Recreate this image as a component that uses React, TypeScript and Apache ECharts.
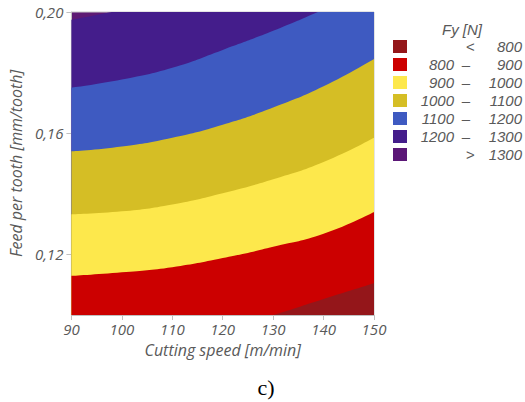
import React, { useEffect, useRef } from "react";
import * as echarts from "echarts";

const speeds = [90, 100, 110, 120, 130, 140, 150];
// Feed values [mm/tooth] where Fy equals each contour level
const b1300 = [0.1974, 0.2007, 0.2045, 0.209, 0.214, 0.22, 0.226];
const b1200 = [0.175, 0.1777, 0.1816, 0.1875, 0.1938, 0.2008, 0.208];
const b1100 = [0.154, 0.1556, 0.1585, 0.1628, 0.1685, 0.1755, 0.1845];
const b1000 = [0.1332, 0.1342, 0.1365, 0.1402, 0.1448, 0.1505, 0.1585];
const b900 = [0.1129, 0.1141, 0.1158, 0.1188, 0.1225, 0.1268, 0.134];
const b800 = [0.088, 0.0895, 0.092, 0.0955, 0.1, 0.1053, 0.1105];

const xTicks = [90, 100, 110, 120, 130, 140, 150];
const yTicks = [0.12, 0.16, 0.2];

const legendTitle = "Fy [N]";
const legendLow: (number | null)[] = [null, 800, 900, 1000, 1100, 1200, null];
const legendSep = ["<", "–", "–", "–", "–", "–", ">"];
const legendHigh = [800, 900, 1000, 1100, 1200, 1300, 1300];
const legendColors = ["#94161a", "#cc0000", "#fde84c", "#d5be25", "#3e5ac1", "#441d8b", "#5b1777"];

// colour filled below each boundary (drawn from top boundary down)
const boundaries = [b1300, b1200, b1100, b1000, b900, b800];
const fillColors = ["#441d8b", "#3e5ac1", "#d5be25", "#fde84c", "#cc0000", "#94161a"];
const topColor = "#5e1a74";

const TXT = "#595959";
const FONT = "Open Sans";

export default function App() {
  const ref = useRef<HTMLDivElement>(null);
  useEffect(() => {
    const chart = echarts.init(ref.current!, null, { renderer: "svg" });
    const series = boundaries.map((b, i) => ({
      type: "line",
      data: speeds.map((v, j) => [v, b[j]]),
      showSymbol: false,
      smooth: 0.5,
      clip: true,
      lineStyle: { width: 0 },
      areaStyle: { color: fillColors[i], opacity: 1, origin: "start" },
      silent: true,
    }));
    const legendFont = `italic 15px "Liberation Sans"`;
    const graphic: any[] = [
      {
        type: "text",
        x: 462,
        y: 29,
        style: { text: legendTitle, fill: TXT, font: legendFont, align: "center", verticalAlign: "middle" },
      },
    ];
    legendColors.forEach((c, i) => {
      const y = 40 + i * 18;
      graphic.push({ type: "rect", shape: { x: 393, y, width: 14, height: 13 }, style: { fill: c } });
      const cy = y + 6.5;
      if (legendLow[i] !== null) {
        graphic.push({
          type: "text",
          x: 454,
          y: cy,
          style: { text: String(legendLow[i]), fill: TXT, font: legendFont, align: "right", verticalAlign: "middle" },
        });
      }
      graphic.push({
        type: "text",
        x: legendSep[i] === "–" ? 466 : 470,
        y: cy,
        style: { text: legendSep[i], fill: TXT, font: legendFont, align: "center", verticalAlign: "middle" },
      });
      graphic.push({
        type: "text",
        x: 522,
        y: cy,
        style: { text: String(legendHigh[i]), fill: TXT, font: legendFont, align: "right", verticalAlign: "middle" },
      });
    });
    graphic.push({
      type: "text",
      x: 266,
      y: 387,
      style: { text: "c)", fill: "#000", font: `22px "Liberation Serif"`, align: "center", verticalAlign: "middle" },
    });

    const axisLabelStyle = { color: TXT, fontFamily: FONT, fontStyle: "italic", fontSize: 15 };
    chart.setOption({
      animation: false,
      grid: {
        left: 71,
        right: 151,
        top: 12,
        bottom: 87,
        show: true,
        backgroundColor: topColor,
        borderColor: "#c8c8c8",
        borderWidth: 1,
      },
      xAxis: {
        type: "value",
        min: 90,
        max: 150,
        interval: 10,
        name: "Cutting speed [m/min]",
        nameLocation: "middle",
        nameGap: 27,
        nameTextStyle: { color: TXT, fontFamily: FONT, fontStyle: "italic", fontSize: 16 },
        axisLine: { show: true, lineStyle: { color: "#c0c0c0" } },
        axisTick: { show: true, length: 5, lineStyle: { color: "#c0c0c0" }, customValues: xTicks },
        axisLabel: { ...axisLabelStyle, margin: 6, customValues: xTicks },
        splitLine: { show: false },
      },
      yAxis: {
        type: "value",
        min: 0.1,
        max: 0.2,
        name: "Feed per tooth [mm/tooth]",
        nameLocation: "middle",
        nameGap: 40,
        nameRotate: 90,
        nameTextStyle: { color: TXT, fontFamily: FONT, fontStyle: "italic", fontSize: 16 },
        axisLine: { show: true, lineStyle: { color: "#c0c0c0" } },
        axisTick: { show: true, length: 5, lineStyle: { color: "#c0c0c0" }, customValues: yTicks },
        axisLabel: {
          ...axisLabelStyle,
          margin: 8,
          customValues: yTicks,
          formatter: (v: number) => v.toFixed(2).replace(".", ","),
        },
        splitLine: { show: false },
      },
      series,
      graphic,
    });
    return () => chart.dispose();
  }, []);
  return <div ref={ref} style={{ width: 525, height: 402, position: "absolute", left: 0, top: 0 }} />;
}
